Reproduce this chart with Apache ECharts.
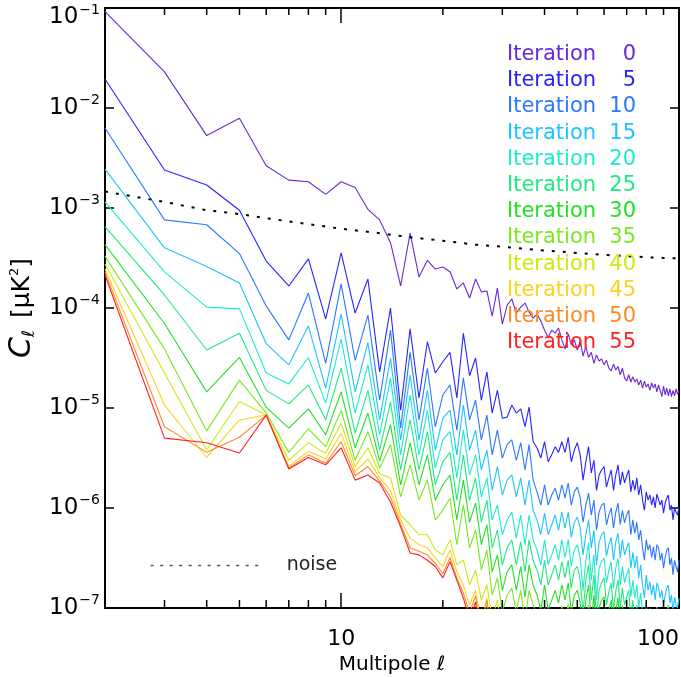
<!DOCTYPE html>
<html><head><meta charset="utf-8">
<script src="https://cdn.jsdelivr.net/npm/echarts@6/dist/echarts.min.js"></script>
<style>html,body{margin:0;padding:0;background:#fff}#chart{width:681px;height:677px}</style>
</head><body><div id="chart"></div>
<script>
// Multipole values
const ell = [2,3,4,5,6,7,8,9,10,11,12,13,14,15,16,17,18,19,20,21,22,23,24,25,26,27,28,29,30,31,32,33,34,35,36,37,38,39,40,41,42,43,44,45,46,47,48,49,50,51,52,53,54,55,56,57,58,59,60,61,62,63,64,65,66,67,68,69,70,71,72,73,74,75,76,77,78,79,80,81,82,83,84,85,86,87,88,89,90,91,92,93,94,95,96,97,98,99,100];

const cl_iter00 = [9.2e-2,2.3e-2,5.3e-3,7.9e-3,2.65e-3,1.9e-3,1.83e-3,1.37e-3,1.83e-3,1.6e-3,
9.7e-4,7.6e-4,4.5e-4,1.66e-4,5.6e-4,2.04e-4,3.0e-4,2.45e-4,2.57e-4,2.3e-4,
1.55e-4,1.78e-4,1.26e-4,1.95e-4,1.45e-4,1.48e-4,8.3e-5,1.58e-4,6.9e-5,1.07e-4,
1.23e-4,8.9e-5,1.02e-4,1.12e-4,9.1e-5,7.9e-5,8.7e-5,7.4e-5,6.0e-5,5.1e-5,
6.0e-5,5.6e-5,6.3e-5,4.8e-5,3.9e-5,5.5e-5,4.3e-5,4.8e-5,3.8e-5,4.7e-5,
3.3e-5,4.1e-5,3.2e-5,3.6e-5,2.8e-5,3.4e-5,2.95e-5,3.1e-5,2.7e-5,3.0e-5,
2.5e-5,2.35e-5,2.75e-5,2.4e-5,2.6e-5,2.15e-5,2.5e-5,2.0e-5,1.86e-5,2.15e-5,
1.82e-5,2.05e-5,1.82e-5,1.95e-5,1.7e-5,1.9e-5,1.58e-5,1.86e-5,1.62e-5,1.74e-5,
1.5e-5,1.78e-5,1.58e-5,1.74e-5,1.45e-5,1.7e-5,1.74e-5,1.3e-5,1.66e-5,1.35e-5,
1.58e-5,1.32e-5,1.55e-5,1.3e-5,1.5e-5,1.32e-5,1.55e-5,1.38e-5,1.48e-5];

const cl_iter05 = [1.95e-2,2.4e-3,1.7e-3,9.5e-4,2.95e-4,1.66e-4,3.1e-4,7.8e-5,3.55e-4,8.9e-5,
1.95e-4,2.3e-5,1.0e-4,9.5e-6,6.2e-5,1.26e-5,4.6e-5,2.24e-5,2.9e-5,3.6e-5,
1.26e-5,5.6e-5,2.1e-5,3.16e-5,1.2e-5,2.3e-5,8.9e-6,1.5e-5,7.9e-6,8.1e-6,
1.07e-5,8.9e-6,9.8e-6,6.5e-6,1.02e-5,4.6e-6,4.0e-6,3.16e-6,4.6e-6,2.9e-6,
3.4e-6,4.1e-6,3.6e-6,4.6e-6,3.6e-6,5.1e-6,2.9e-6,3.8e-6,4.5e-6,3.4e-6,
1.9e-6,2.9e-6,4.1e-6,2.24e-6,3.0e-6,1.5e-6,2.14e-6,2.4e-6,2.6e-6,1.62e-6,
2.0e-6,2.4e-6,1.5e-6,2.14e-6,2.7e-6,1.7e-6,2.3e-6,1.78e-6,2.1e-6,2.4e-6,
1.45e-6,1.9e-6,1.5e-6,2.0e-6,1.35e-6,1.7e-6,1.2e-6,9.5e-7,1.45e-6,1.2e-6,
1.35e-6,1.07e-6,1.29e-6,1.0e-6,1.38e-6,1.41e-6,1.07e-6,1.2e-6,8.9e-7,1.12e-6,
1.26e-6,1.35e-6,9.5e-7,1.07e-6,7.6e-7,1.0e-6,9.1e-7,8.5e-7,1.02e-6];

const cl_iter10 = [6.3e-3,7.6e-4,6.8e-4,3.5e-4,1.05e-4,4.8e-5,1.41e-4,2.8e-5,1.74e-4,3.0e-5,
8.5e-5,1.2e-5,6.0e-5,6.3e-6,3.6e-5,7.6e-6,2.5e-5,6.5e-6,1.35e-5,1.7e-5,
6.0e-6,2.0e-5,7.6e-6,1.2e-5,4.8e-6,8.5e-6,3.4e-6,6.0e-6,3.16e-6,4.3e-6,
4.8e-6,3.0e-6,4.5e-6,2.4e-6,4.3e-6,1.9e-6,1.45e-6,1.07e-6,1.7e-6,1.07e-6,
1.35e-6,1.58e-6,1.2e-6,1.7e-6,1.26e-6,1.78e-6,1.07e-6,1.45e-6,1.62e-6,1.26e-6,
7.2e-7,1.07e-6,1.41e-6,8.5e-7,1.2e-6,6.0e-7,9.1e-7,1.07e-6,1.12e-6,6.8e-7,
8.5e-7,1.0e-6,6.3e-7,9.1e-7,1.12e-6,6.8e-7,9.5e-7,7.1e-7,8.5e-7,9.5e-7,
5.4e-7,7.6e-7,5.6e-7,7.2e-7,4.8e-7,6.0e-7,4.0e-7,3.0e-7,4.8e-7,3.8e-7,
4.3e-7,3.2e-7,4.1e-7,3.0e-7,4.3e-7,4.0e-7,3.0e-7,3.55e-7,2.5e-7,3.2e-7,
3.8e-7,4.0e-7,2.7e-7,3.16e-7,2.14e-7,3.0e-7,2.6e-7,2.3e-7,3.0e-7];

const cl_iter15 = [2.45e-3,4.0e-4,2.6e-4,1.78e-4,4.4e-5,2.7e-5,6.6e-5,1.58e-5,8.7e-5,1.45e-5,
4.5e-5,7.6e-6,3.16e-5,4.8e-6,2.14e-5,4.8e-6,1.5e-5,3.8e-6,7.9e-6,9.5e-6,
3.4e-6,1.07e-5,3.8e-6,6.0e-6,2.4e-6,3.8e-6,1.5e-6,2.6e-6,1.35e-6,1.9e-6,
2.14e-6,1.29e-6,2.0e-6,1.07e-6,1.9e-6,9.5e-7,7.6e-7,5.4e-7,8.9e-7,5.4e-7,
6.8e-7,8.5e-7,6.0e-7,9.1e-7,6.3e-7,9.1e-7,5.1e-7,7.2e-7,8.1e-7,6.3e-7,
3.4e-7,5.4e-7,7.6e-7,4.0e-7,6.0e-7,2.7e-7,4.5e-7,5.4e-7,5.8e-7,3.3e-7,
4.3e-7,5.1e-7,3.0e-7,4.6e-7,5.6e-7,3.16e-7,4.8e-7,3.4e-7,4.0e-7,4.5e-7,
2.5e-7,3.6e-7,2.5e-7,3.3e-7,2.0e-7,2.7e-7,1.7e-7,1.26e-7,2.14e-7,1.5e-7,
1.82e-7,1.35e-7,1.7e-7,1.2e-7,1.78e-7,1.62e-7,1.26e-7,1.5e-7,1.07e-7,1.35e-7,
1.58e-7,1.7e-7,1.12e-7,1.35e-7,9.1e-8,1.29e-7,1.07e-7,1.0e-7,1.26e-7];

const cl_iter20 = [1.15e-3,2.3e-4,1.02e-4,9.8e-5,2.24e-5,1.74e-5,3.2e-5,1.12e-5,4.9e-5,8.9e-6,
2.7e-5,5.4e-6,2.0e-5,3.4e-6,1.35e-5,3.4e-6,9.5e-6,2.5e-6,4.8e-6,5.8e-6,
2.0e-6,6.0e-6,2.14e-6,3.4e-6,1.29e-6,2.0e-6,7.6e-7,1.07e-6,5.4e-7,7.6e-7,
9.1e-7,5.0e-7,8.5e-7,4.3e-7,8.5e-7,4.8e-7,3.8e-7,2.7e-7,4.8e-7,2.7e-7,
3.4e-7,4.3e-7,3.0e-7,4.8e-7,3.2e-7,4.8e-7,2.6e-7,3.8e-7,4.3e-7,3.16e-7,
1.5e-7,3.0e-7,4.5e-7,1.9e-7,3.4e-7,1.2e-7,2.5e-7,2.9e-7,3.16e-7,1.78e-7,
2.4e-7,2.9e-7,1.58e-7,2.5e-7,3.16e-7,1.7e-7,2.6e-7,1.78e-7,2.14e-7,2.5e-7,
1.29e-7,1.9e-7,1.26e-7,1.7e-7,1.02e-7,1.41e-7,9.1e-8,6.8e-8,1.12e-7,7.9e-8,
1.0e-7,7.2e-8,9.5e-8,6.8e-8,1.02e-7,9.1e-8,6.8e-8,8.5e-8,6.0e-8,7.9e-8,
9.5e-8,1.07e-7,6.3e-8,8.5e-8,5.4e-8,7.9e-8,6.8e-8,6.0e-8,7.6e-8];

const cl_iter25 = [6.5e-4,1.35e-4,3.8e-5,5.6e-5,1.5e-5,1.1e-5,1.7e-5,7.6e-6,2.5e-5,5.6e-6,
1.5e-5,3.8e-6,1.15e-5,2.4e-6,7.6e-6,2.4e-6,5.8e-6,1.7e-6,2.9e-6,3.6e-6,
1.2e-6,3.4e-6,1.2e-6,2.0e-6,7.2e-7,1.2e-6,4.0e-7,6.0e-7,2.7e-7,4.0e-7,
4.8e-7,2.7e-7,4.6e-7,2.3e-7,4.8e-7,3.0e-7,2.4e-7,1.7e-7,3.0e-7,1.7e-7,
2.14e-7,2.7e-7,1.9e-7,2.9e-7,2.0e-7,3.0e-7,1.58e-7,2.4e-7,2.6e-7,1.9e-7,
9.1e-8,1.9e-7,2.7e-7,1.2e-7,2.14e-7,7.6e-8,1.5e-7,1.78e-7,2.0e-7,1.07e-7,
1.45e-7,1.78e-7,9.5e-8,1.5e-7,1.9e-7,1.02e-7,1.58e-7,1.07e-7,1.29e-7,1.5e-7,
7.9e-8,1.2e-7,7.6e-8,1.07e-7,6.0e-8,9.1e-8,5.6e-8,4.3e-8,7.1e-8,5.0e-8,
6.3e-8,4.6e-8,6.0e-8,4.3e-8,6.5e-8,5.8e-8,4.3e-8,5.4e-8,3.8e-8,5.0e-8,
6.0e-8,6.8e-8,4.0e-8,5.4e-8,3.4e-8,5.0e-8,4.3e-8,3.8e-8,4.8e-8];

const cl_iter30 = [4.3e-4,7.0e-5,1.45e-5,3.2e-5,1.02e-5,6.3e-6,9.8e-6,5.4e-6,1.45e-5,4.0e-6,
8.9e-6,2.95e-6,6.8e-6,1.7e-6,4.5e-6,1.7e-6,3.4e-6,1.2e-6,1.7e-6,2.14e-6,
7.6e-7,1.9e-6,7.2e-7,1.12e-6,4.3e-7,6.8e-7,2.3e-7,3.4e-7,1.5e-7,2.3e-7,
2.7e-7,1.5e-7,2.6e-7,1.29e-7,2.7e-7,1.7e-7,1.35e-7,9.5e-8,1.7e-7,9.5e-8,
1.2e-7,1.5e-7,1.12e-7,1.7e-7,1.2e-7,1.78e-7,9.1e-8,1.35e-7,1.5e-7,1.12e-7,
5.4e-8,1.2e-7,1.7e-7,7.2e-8,1.35e-7,4.8e-8,1.0e-7,1.2e-7,1.29e-7,6.8e-8,
9.5e-8,1.2e-7,6.0e-8,9.5e-8,1.26e-7,6.3e-8,1.05e-7,6.8e-8,8.5e-8,9.5e-8,
4.8e-8,7.6e-8,4.8e-8,6.8e-8,3.8e-8,5.8e-8,3.4e-8,2.5e-8,4.3e-8,3.0e-8,
3.8e-8,2.75e-8,3.6e-8,2.5e-8,4.0e-8,3.4e-8,2.5e-8,3.16e-8,2.3e-8,3.0e-8,
3.6e-8,4.3e-8,2.4e-8,3.2e-8,2.0e-8,3.0e-8,2.5e-8,2.3e-8,2.9e-8];

const cl_iter35 = [3.3e-4,3.9e-5,5.9e-6,1.9e-5,8.9e-6,3.6e-6,6.2e-6,4.1e-6,9.5e-6,3.0e-6,
5.8e-6,2.5e-6,4.3e-6,1.29e-6,2.7e-6,1.2e-6,1.9e-6,7.6e-7,9.5e-7,1.26e-6,
4.3e-7,1.07e-6,4.0e-7,6.0e-7,2.4e-7,3.8e-7,1.35e-7,2.0e-7,9.1e-8,1.35e-7,
1.58e-7,9.1e-8,1.5e-7,7.6e-8,1.5e-7,1.07e-7,8.5e-8,6.0e-8,1.07e-7,6.0e-8,
7.6e-8,9.5e-8,6.8e-8,1.05e-7,7.2e-8,1.1e-7,5.8e-8,8.5e-8,9.5e-8,6.8e-8,
3.4e-8,7.6e-8,1.07e-7,4.6e-8,8.5e-8,3.0e-8,6.3e-8,7.6e-8,8.1e-8,4.3e-8,
6.0e-8,7.6e-8,3.8e-8,6.0e-8,7.9e-8,4.0e-8,6.6e-8,4.3e-8,5.2e-8,6.0e-8,
3.0e-8,4.8e-8,3.0e-8,4.3e-8,2.4e-8,3.6e-8,2.14e-8,1.58e-8,2.7e-8,1.9e-8,
2.4e-8,1.74e-8,2.3e-8,1.58e-8,2.5e-8,2.14e-8,1.58e-8,2.0e-8,1.45e-8,1.9e-8,
2.3e-8,2.7e-8,1.5e-8,2.0e-8,1.26e-8,1.9e-8,1.58e-8,1.45e-8,1.8e-8];

const cl_iter40 = [2.75e-4,2.24e-5,3.8e-6,1.16e-5,8.5e-6,3.0e-6,4.5e-6,3.5e-6,7.1e-6,2.6e-6,
4.0e-6,2.2e-6,2.0e-6,8.5e-7,6.8e-7,5.4e-7,5.4e-7,3.8e-7,3.4e-7,4.8e-7,
2.7e-7,3.0e-7,1.7e-7,2.4e-7,1.2e-7,1.7e-7,7.9e-8,1.2e-7,5.4e-8,7.9e-8,
9.1e-8,5.4e-8,9.1e-8,4.8e-8,9.5e-8,7.6e-8,5.8e-8,4.0e-8,7.2e-8,4.0e-8,
5.0e-8,6.3e-8,4.5e-8,6.8e-8,4.8e-8,7.2e-8,3.8e-8,5.6e-8,6.3e-8,4.5e-8,
2.3e-8,5.0e-8,7.2e-8,3.0e-8,5.8e-8,2.0e-8,4.3e-8,5.0e-8,5.4e-8,2.9e-8,
4.0e-8,5.0e-8,2.5e-8,4.0e-8,5.2e-8,2.7e-8,4.4e-8,2.9e-8,3.5e-8,4.0e-8,
2.0e-8,3.2e-8,2.0e-8,2.9e-8,1.58e-8,2.4e-8,1.45e-8,1.07e-8,1.8e-8,1.26e-8,
1.58e-8,1.15e-8,1.5e-8,1.07e-8,1.66e-8,1.45e-8,1.07e-8,1.35e-8,9.5e-9,1.26e-8,
1.5e-8,1.78e-8,1.0e-8,1.35e-8,8.5e-9,1.26e-8,1.07e-8,9.5e-9,1.2e-8];

const cl_iter45 = [2.45e-4,1.07e-5,3.2e-6,7.6e-6,8.5e-6,2.6e-6,3.7e-6,3.1e-6,5.6e-6,2.3e-6,
3.1e-6,2.0e-6,1.5e-6,7.6e-7,5.0e-7,4.3e-7,4.0e-7,3.16e-7,2.6e-7,3.8e-7,
2.3e-7,1.7e-7,1.07e-7,1.5e-7,6.8e-8,1.26e-7,4.8e-8,7.9e-8,3.4e-8,5.4e-8,
6.0e-8,3.6e-8,6.0e-8,3.16e-8,6.3e-8,5.0e-8,3.8e-8,2.7e-8,4.8e-8,2.7e-8,
3.4e-8,4.3e-8,3.0e-8,4.6e-8,3.2e-8,4.8e-8,2.5e-8,3.8e-8,4.3e-8,3.0e-8,
1.5e-8,3.4e-8,4.8e-8,2.0e-8,3.8e-8,1.35e-8,2.9e-8,3.4e-8,3.6e-8,1.9e-8,
2.7e-8,3.4e-8,1.7e-8,2.7e-8,3.55e-8,1.8e-8,2.95e-8,1.9e-8,2.35e-8,2.7e-8,
1.35e-8,2.14e-8,1.35e-8,1.9e-8,1.07e-8,1.58e-8,9.5e-9,7.2e-9,1.2e-8,8.5e-9,
1.07e-8,7.9e-9,1.02e-8,7.2e-9,1.12e-8,9.5e-9,7.2e-9,9.1e-9,6.3e-9,8.5e-9,
1.02e-8,1.2e-8,6.8e-9,9.1e-9,5.8e-9,8.5e-9,7.2e-9,6.3e-9,7.9e-9];

const cl_iter50 = [2.3e-4,6.5e-6,3.6e-6,5.1e-6,8.5e-6,2.5e-6,3.4e-6,2.8e-6,4.6e-6,2.1e-6,
2.6e-6,1.86e-6,1.29e-6,6.9e-7,4.0e-7,3.7e-7,3.4e-7,2.8e-7,2.2e-7,3.2e-7,
2.0e-7,1.41e-7,8.9e-8,1.32e-7,5.4e-8,1.2e-7,3.6e-8,6.0e-8,2.5e-8,4.0e-8,
4.5e-8,2.7e-8,4.5e-8,2.3e-8,4.8e-8,3.6e-8,2.8e-8,2.0e-8,3.55e-8,2.0e-8,
2.5e-8,3.16e-8,2.24e-8,3.4e-8,2.4e-8,3.55e-8,1.86e-8,2.8e-8,3.16e-8,2.24e-8,
1.12e-8,2.5e-8,3.55e-8,1.48e-8,2.8e-8,1.0e-8,2.14e-8,2.5e-8,2.7e-8,1.41e-8,
2.0e-8,2.5e-8,1.26e-8,2.0e-8,2.6e-8,1.35e-8,2.2e-8,1.41e-8,1.74e-8,2.0e-8,
1.0e-8,1.58e-8,1.0e-8,1.41e-8,7.9e-9,1.2e-8,7.1e-9,5.4e-9,8.9e-9,6.3e-9,
7.9e-9,5.8e-9,7.6e-9,5.4e-9,8.3e-9,7.1e-9,5.4e-9,6.8e-9,4.8e-9,6.3e-9,
7.6e-9,8.9e-9,5.0e-9,6.8e-9,4.3e-9,6.3e-9,5.4e-9,4.8e-9,6.0e-9];

const cl_iter55 = [2.14e-4,5.0e-6,4.5e-6,3.55e-6,8.5e-6,2.45e-6,3.2e-6,2.7e-6,4.0e-6,1.9e-6,
2.14e-6,1.78e-6,1.15e-6,6.5e-7,3.55e-7,3.4e-7,3.0e-7,2.6e-7,2.0e-7,2.9e-7,
1.9e-7,1.26e-7,7.6e-8,1.15e-7,4.3e-8,7.6e-8,2.7e-8,4.3e-8,1.8e-8,2.9e-8,
3.16e-8,1.9e-8,3.16e-8,1.62e-8,3.4e-8,2.6e-8,2.0e-8,1.41e-8,2.5e-8,1.41e-8,
1.78e-8,2.24e-8,1.58e-8,2.4e-8,1.7e-8,2.5e-8,1.32e-8,2.0e-8,2.24e-8,1.58e-8,
7.9e-9,1.78e-8,2.5e-8,1.05e-8,2.0e-8,7.1e-9,1.5e-8,1.78e-8,1.9e-8,1.0e-8,
1.41e-8,1.78e-8,8.9e-9,1.41e-8,1.86e-8,9.5e-9,1.55e-8,1.0e-8,1.23e-8,1.41e-8,
7.1e-9,1.12e-8,7.1e-9,1.0e-8,5.6e-9,8.5e-9,5.0e-9,3.8e-9,6.3e-9,4.5e-9,
5.6e-9,4.1e-9,5.4e-9,3.8e-9,5.9e-9,5.0e-9,3.8e-9,4.8e-9,3.4e-9,4.5e-9,
5.4e-9,6.3e-9,3.55e-9,4.8e-9,3.0e-9,4.5e-9,3.8e-9,3.4e-9,4.3e-9];

// Noise level (smooth curve)
const noiseEll = [2,3,4,5,6,8,10,13,16,20,25,30,40,50,60,70,80,90,100];
const noiseCl = [1.46e-3,1.15e-3,9.5e-4,8.7e-4,7.9e-4,6.9e-4,6.2e-4,5.6e-4,5.1e-4,4.7e-4,4.3e-4,4.1e-4,3.76e-4,3.55e-4,3.4e-4,3.3e-4,3.22e-4,3.17e-4,3.13e-4];

const iterations = [0,5,10,15,20,25,30,35,40,45,50,55];
const xMinorTicks = [3,4,5,6,7,8,9,20,30,40,50,60,70,80,90];

// styles
const clArrays = [cl_iter00,cl_iter05,cl_iter10,cl_iter15,cl_iter20,cl_iter25,cl_iter30,cl_iter35,cl_iter40,cl_iter45,cl_iter50,cl_iter55];
const colors = ['#6a28d6','#2424ff','#2a78ff','#1ec4ff','#1eeacc','#1eea80','#24e024','#78ea1e','#cdea10','#ffd21e','#ff8a28','#ff2020'];
const FONT = 'DejaVu Sans';

const chart = echarts.init(document.getElementById('chart'), null, {renderer: 'canvas'});

function isPow10(v) { const e = Math.log10(v); return Math.abs(e - Math.round(e)) < 1e-6; }

function yLabel(v) {
  const e = Math.round(Math.log10(v));
  const s = '\u2212' + Math.abs(e);
  if (e === -1) return '{bt|10}{st|' + s + '}';
  return '{b|10}{s|' + s + '}';
}

const lineSeries = iterations.map((it, i) => ({
  type: 'line',
  name: 'Iteration ' + it,
  data: ell.map((l, j) => [l, clArrays[i][j]]),
  symbol: 'none',
  showSymbol: false,
  clip: true,
  silent: true,
  lineStyle: {color: colors[i], width: 1.1},
  itemStyle: {color: colors[i]},
  z: 2
}));

const option = {
  animation: false,
  backgroundColor: '#ffffff',
  grid: {left: 105, right: 2, top: 8, bottom: 69, containLabel: false, outerBoundsMode: 'none'},
  xAxis: [{
    type: 'log', logBase: 10, min: 2, max: 100, position: 'bottom',
    axisLine: {show: true, lineStyle: {color: '#000', width: 2}},
    axisTick: {show: true, inside: true, length: 15, lineStyle: {color: '#000', width: 1.5}},
    minorTick: {show: false},
    splitLine: {show: false},
    axisLabel: {
      formatter: v => isPow10(v) ? String(Math.round(v)) : '',
      fontSize: 22, fontFamily: FONT, color: '#000', margin: 20, alignMaxLabel: 'right'
    },
    name: 'Multipole \u2113', nameLocation: 'middle', nameGap: 46,
    nameTextStyle: {fontSize: 20, fontFamily: FONT, color: '#000'}
  }, {
    type: 'log', logBase: 10, min: 2, max: 100, position: 'top',
    axisLine: {show: true, lineStyle: {color: '#000', width: 2}},
    axisTick: {show: true, inside: true, length: 15, lineStyle: {color: '#000', width: 1.5}},
    axisLabel: {show: false}, splitLine: {show: false}
  }],
  yAxis: [{
    type: 'log', logBase: 10, min: 1e-7, max: 1e-1, position: 'left',
    axisLine: {show: true, lineStyle: {color: '#000', width: 2}},
    axisTick: {show: true, inside: true, length: 9, lineStyle: {color: '#000', width: 1.5}},
    splitLine: {show: false},
    axisLabel: {
      formatter: yLabel, margin: 5, color: '#000',
      rich: {
        b: {fontSize: 23, fontFamily: FONT, color: '#000', lineHeight: 24},
        s: {fontSize: 14, fontFamily: FONT, color: '#000', padding: [0, 0, 16, 1]},
        bt: {fontSize: 23, fontFamily: FONT, color: '#000', lineHeight: 24, padding: [18, 0, 0, 0]},
        st: {fontSize: 14, fontFamily: FONT, color: '#000', padding: [4, 0, 0, 1]}
      }
    },
    name: '{c|C}{l|\u2113}{sp|}{t|[\u03bcK}{sq|2}{t|]}',
    nameLocation: 'middle', nameRotate: 90, nameGap: 66,
    nameTextStyle: {
      color: '#000',
      rich: {
        c: {fontSize: 30, fontFamily: FONT, fontStyle: 'italic', color: '#000'},
        l: {fontSize: 17, fontFamily: FONT, color: '#000', padding: [14, 0, 0, 0]},
        sp: {width: 12},
        t: {fontSize: 25, fontFamily: FONT, color: '#000'},
        sq: {fontSize: 13, fontFamily: FONT, color: '#000', padding: [0, 0, 16, 0]}
      }
    }
  }, {
    type: 'log', logBase: 10, min: 1e-7, max: 1e-1, position: 'right',
    axisLine: {show: true, lineStyle: {color: '#000', width: 2}},
    axisTick: {show: true, inside: true, length: 9, lineStyle: {color: '#000', width: 1.5}},
    axisLabel: {show: false}, splitLine: {show: false}
  }],
  legend: [{
    orient: 'vertical', left: 496, top: 39, itemWidth: 0, itemHeight: 0, itemGap: 5.2,
    selectedMode: false,
    data: iterations.map((it, i) => ({name: 'Iteration ' + it, textStyle: {color: colors[i]}})),
    formatter: name => '{a|Iteration}{b|' + name.split(' ')[1] + '}',
    textStyle: {
      fontFamily: FONT, fontSize: 21,
      rich: {
        a: {fontFamily: FONT, fontSize: 21, width: 92, lineHeight: 21},
        b: {fontFamily: FONT, fontSize: 21, width: 37, align: 'right', lineHeight: 21}
      }
    }
  }, {
    orient: 'horizontal', left: 145, top: 551, itemWidth: 113, itemHeight: 16,
    selectedMode: false,
    data: ['noise'],
    formatter: '{n|noise}',
    itemStyle: {opacity: 0},
    lineStyle: {color: '#555', width: 1.3, type: [3, 6.5], opacity: 1},
    textStyle: {rich: {n: {fontFamily: FONT, fontSize: 19, color: '#222', padding: [0, 0, 0, 18]}}}
  }],
  series: [
    ...lineSeries,
    {
      type: 'line', name: 'noise',
      data: noiseEll.map((l, i) => [l, noiseCl[i]]),
      symbol: 'none', showSymbol: false, silent: true, smooth: false,
      lineStyle: {color: '#000', width: 2, type: [3, 8]},
      itemStyle: {color: '#000'}, z: 3
    },
    {
      type: 'custom', name: 'minorTicks', coordinateSystem: 'cartesian2d',
      xAxisIndex: 0, yAxisIndex: 0, silent: true, z: 5,
      data: xMinorTicks.map(v => [v, 1e-4]),
      renderItem: (params, api) => {
        const bottom = api.coord([api.value(0), 1e-7]);
        const top = api.coord([api.value(0), 1e-1]);
        return {type: 'group', children: [
          {type: 'line', shape: {x1: bottom[0], y1: bottom[1], x2: bottom[0], y2: bottom[1] - 8}, style: {stroke: '#000', lineWidth: 1.5}},
          {type: 'line', shape: {x1: top[0], y1: top[1], x2: top[0], y2: top[1] + 7}, style: {stroke: '#000', lineWidth: 1.5}}
        ]};
      }
    }
  ]
};
chart.setOption(option);
</script>
</body></html>
